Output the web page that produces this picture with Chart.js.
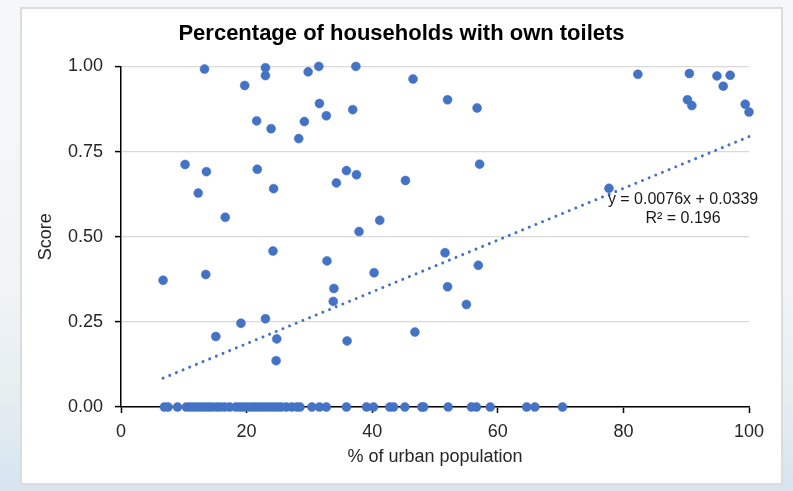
<!DOCTYPE html>
<html>
<head>
<meta charset="utf-8">
<script src="https://cdn.jsdelivr.net/npm/chart.js@4"></script>
<style>
  html, body { margin: 0; padding: 0; }
  body {
    width: 793px; height: 491px; overflow: hidden; position: relative;
    background: linear-gradient(180deg, #f5f8fb 0%, #f1f5f8 55%, #e6eef0 80%, #d6e4f0 100%);
  }
  #frame {
    position: absolute; left: 20px; top: 7px; width: 763px; height: 478px;
    box-sizing: border-box; border: 2px solid #dcdcdc; background: #ffffff;
  }
  #c { display: block; }
</style>
</head>
<body>
<div id="frame"><canvas id="c" width="759" height="474"></canvas></div>
<script>
// ---- Data ----
const chartTitle = "Percentage of households with own toilets";
const xAxisTitle = "% of urban population";
const yAxisTitle = "Score";
const xTicks = [0, 20, 40, 60, 80, 100];
const yTicks = [0, 0.25, 0.5, 0.75, 1.0];

// Points with a non-zero score
const urbanPct = [13.3, 19.7, 23.0, 23.0, 29.8, 31.5, 37.4, 46.5, 52.0, 56.7,
  82.3, 90.5, 94.9, 97.0, 95.9, 90.2, 90.9, 99.4, 100.0, 31.6,
  36.9, 32.7, 21.6, 29.2, 23.9, 28.3, 10.2, 13.6, 21.7, 35.9,
  37.5, 34.3, 12.3, 24.3, 16.6, 41.2, 37.9, 24.2, 57.1, 45.3,
  77.7, 6.7, 13.5, 32.8, 40.3, 33.9, 33.8, 19.1, 23.0, 15.1,
  24.8, 24.7, 36.0, 51.6, 56.9, 52.0, 55.0, 46.8];
const score = [0.992, 0.944, 0.996, 0.973, 0.984, 1.0, 1.0, 0.963, 0.902, 0.878,
  0.977, 0.979, 0.972, 0.974, 0.942, 0.902, 0.885, 0.889, 0.866, 0.891,
  0.873, 0.855, 0.840, 0.838, 0.817, 0.788, 0.712, 0.691, 0.698, 0.694,
  0.682, 0.658, 0.628, 0.641, 0.557, 0.548, 0.515, 0.458, 0.713, 0.665,
  0.642, 0.372, 0.389, 0.429, 0.394, 0.348, 0.310, 0.246, 0.259, 0.207,
  0.200, 0.136, 0.194, 0.453, 0.416, 0.353, 0.301, 0.220];

// Points with a score of zero (urban %)
const zeroUrbanPct = [6.9, 7.5, 9.0, 10.4, 11.0, 11.6, 12.2, 12.8, 13.3, 13.9,
  14.5, 15.2, 15.8, 16.5, 17.3, 18.3, 18.9, 19.5, 20.1, 20.7,
  21.3, 21.9, 22.5, 23.1, 23.7, 24.3, 24.9, 25.5, 26.3, 27.2,
  28.0, 28.5, 30.4, 31.6, 32.7, 35.9, 39.1, 40.2, 42.8, 43.4,
  45.2, 47.9, 48.2, 52.1, 55.8, 56.6, 58.8, 64.6, 65.9, 70.3];

// Linear trendline as printed on the chart
const trendSlope = 0.0076;
const trendIntercept = 0.0339;
const trendR2 = 0.196;
const trendXRange = [6.7, 100];
const trendLabel = ["y = 0.0076x + 0.0339", "R\u00b2 = 0.196"];

// ---- Build chart ----
const BLUE = '#4472C4';
const FONT = "'Liberation Sans', Arial, sans-serif";

const scatterPts = urbanPct.map((x, i) => ({ x: x, y: score[i] }))
  .concat(zeroUrbanPct.map(x => ({ x: x, y: 0 })));
const trendPts = trendXRange.map(x => ({ x: x, y: trendSlope * x + trendIntercept }));

const trendLabelPlugin = {
  id: 'trendLabel',
  afterDatasetsDraw(chart) {
    const ctx = chart.ctx;
    const a = chart.chartArea;
    ctx.save();
    ctx.font = "16px " + FONT;
    ctx.fillStyle = '#1a1a1a';
    ctx.textAlign = 'center';
    ctx.textBaseline = 'middle';
    const cx = a.left + (a.right - a.left) * 0.895;
    ctx.fillText(trendLabel[0], cx, a.top + 133);
    ctx.fillText(trendLabel[1], cx, a.top + 152);
    ctx.restore();
  }
};

new Chart(document.getElementById('c'), {
  type: 'scatter',
  data: {
    datasets: [
      {
        type: 'line',
        label: 'Linear trend',
        data: trendPts,
        borderColor: BLUE,
        borderWidth: 3,
        borderDash: [0.001, 7.2],
        borderCapStyle: 'round',
        pointRadius: 0,
        fill: false,
        clip: false,
        order: 0
      },
      {
        label: 'Score',
        data: scatterPts,
        backgroundColor: BLUE,
        borderColor: BLUE,
        borderWidth: 0.5,
        pointRadius: 4.5,
        pointHoverRadius: 4.5,
        clip: false,
        order: 1
      }
    ]
  },
  options: {
    responsive: false,
    animation: false,
    devicePixelRatio: 1,
    layout: { padding: 0 },
    plugins: {
      legend: { display: false },
      tooltip: { enabled: false },
      title: {
        display: true,
        text: chartTitle,
        color: '#000000',
        font: { family: FONT, size: 22, weight: 'bold', lineHeight: 1.2 },
        padding: { top: 12, bottom: 19 }
      }
    },
    scales: {
      x: {
        type: 'linear',
        min: 0, max: 100,
        afterFit(s) { s.height = 76; s.paddingRight = 32; s.paddingLeft = 0; },
        afterBuildTicks(s) { s.ticks = xTicks.map(v => ({ value: v })); },
        border: { display: true, color: '#000000', width: 1.5 },
        grid: { display: true, drawOnChartArea: false, drawTicks: true, tickLength: 6, tickColor: '#000000', tickWidth: 1.5 },
        ticks: { color: '#262626', font: { family: FONT, size: 18 }, padding: 8, maxRotation: 0 },
        title: { display: true, text: xAxisTitle, color: '#262626', font: { family: FONT, size: 18, lineHeight: 1.2 }, padding: { top: 0, bottom: 15 } }
      },
      y: {
        type: 'linear',
        min: 0, max: 1,
        afterFit(s) { s.width = 99; },
        afterBuildTicks(s) { s.ticks = yTicks.map(v => ({ value: v })); },
        border: { display: true, color: '#000000', width: 1.5 },
        grid: { display: true, color: '#d9d9d9', lineWidth: 1.2, drawTicks: true, tickLength: 6, tickColor: '#000000', tickWidth: 1.5 },
        ticks: { color: '#262626', font: { family: FONT, size: 18 }, padding: 12, callback: v => Number(v).toFixed(2) },
        title: { display: true, text: yAxisTitle, color: '#262626', font: { family: FONT, size: 18, lineHeight: 1.2 }, padding: { top: 13, bottom: 0 } }
      }
    }
  },
  plugins: [trendLabelPlugin]
});
</script>
</body>
</html>
